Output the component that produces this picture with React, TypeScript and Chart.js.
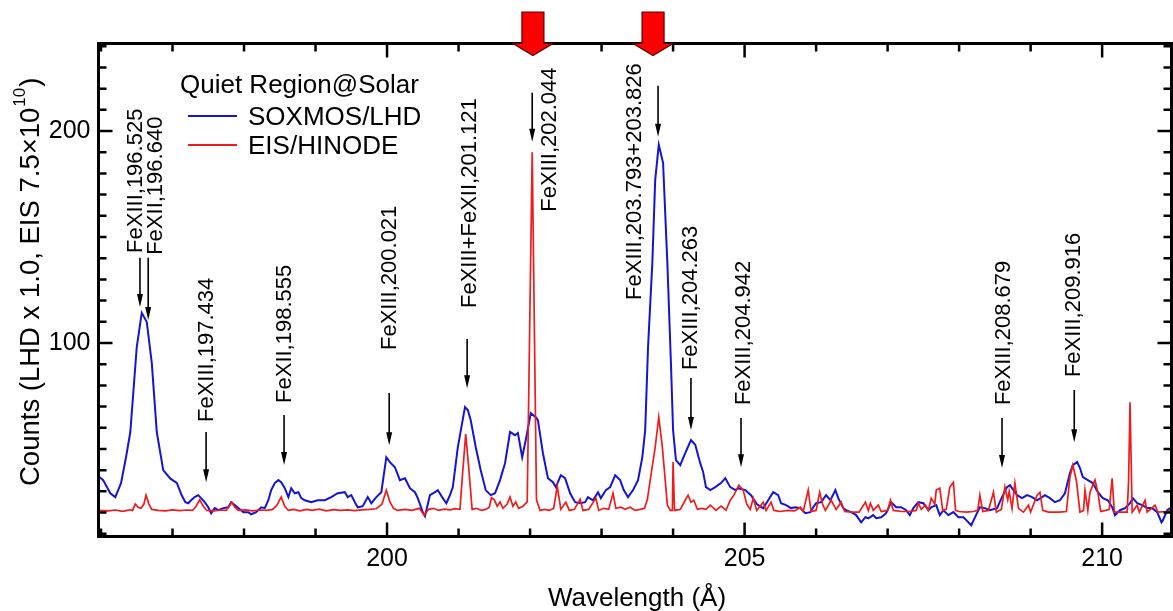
import React, { useEffect, useRef } from 'react';
import { Chart, registerables } from 'chart.js';

Chart.register(...registerables);

// ---- Data ----
const blueWavelength = [
  195.96, 196.03, 196.13, 196.2, 196.28, 196.35, 196.41, 196.5, 196.57, 196.64, 196.71, 196.78, 196.87, 196.97,
  197.06, 197.13, 197.18, 197.22, 197.26, 197.31, 197.36, 197.4, 197.45, 197.5, 197.54, 197.59, 197.64, 197.71,
  197.78, 197.82, 197.87, 197.92, 197.99, 198.06, 198.1, 198.17, 198.24, 198.29, 198.34, 198.38, 198.43, 198.48,
  198.52, 198.57, 198.62, 198.66, 198.71, 198.76, 198.8, 198.85, 198.94, 199.03, 199.13, 199.22, 199.31, 199.41,
  199.45, 199.5, 199.55, 199.59, 199.66, 199.73, 199.78, 199.85, 199.92, 199.99, 200.04, 200.11, 200.18, 200.25,
  200.32, 200.39, 200.43, 200.5, 200.53, 200.6, 200.67, 200.71, 200.77, 200.83, 200.88, 200.92, 200.99, 201.09,
  201.13, 201.17, 201.24, 201.31, 201.38, 201.45, 201.51, 201.58, 201.65, 201.72, 201.79, 201.83, 201.89, 201.94,
  202.01, 202.08, 202.11, 202.18, 202.25, 202.32, 202.36, 202.43, 202.49, 202.56, 202.63, 202.7, 202.77, 202.81,
  202.88, 202.95, 202.99, 203.06, 203.12, 203.19, 203.26, 203.31, 203.37, 203.44, 203.51, 203.57, 203.61, 203.65,
  203.71, 203.75, 203.8, 203.86, 203.92, 203.97, 204.0, 204.04, 204.1, 204.17, 204.25, 204.31, 204.38, 204.42,
  204.46, 204.52, 204.59, 204.67, 204.73, 204.8, 204.87, 204.91, 205.01, 205.09, 205.17, 205.26, 205.33, 205.4,
  205.47, 205.51, 205.58, 205.65, 205.71, 205.78, 205.85, 205.92, 205.96, 206.0, 206.07, 206.14, 206.2, 206.27,
  206.31, 206.38, 206.42, 206.49, 206.56, 206.63, 206.69, 206.73, 206.8, 206.84, 206.91, 206.98, 207.05, 207.12,
  207.19, 207.26, 207.31, 207.36, 207.43, 207.5, 207.57, 207.61, 207.68, 207.73, 207.78, 207.85, 207.92, 207.99,
  208.06, 208.1, 208.17, 208.24, 208.29, 208.36, 208.43, 208.53, 208.6, 208.67, 208.71, 208.76, 208.81, 208.88,
  208.95, 209.02, 209.09, 209.16, 209.2, 209.27, 209.34, 209.41, 209.48, 209.55, 209.59, 209.65, 209.69, 209.73,
  209.8, 209.87, 209.94, 210.01, 210.08, 210.14, 210.18, 210.25, 210.32, 210.39, 210.43, 210.49, 210.56, 210.63,
  210.7, 210.77, 210.83, 210.85, 210.91, 210.95,
];
const blueCounts = [
  37.2, 35.3, 29.1, 27.3, 33.9, 46.1, 58, 98.1, 114.2, 109.9, 90.6, 58, 40, 36,
  34, 28, 24.9, 24.4, 25.8, 27.3, 28.2, 26.8, 24.9, 22.5, 19.7, 22.1, 21.1, 22.1,
  22.5, 24.9, 23.5, 22.1, 20.2, 20.2, 19.2, 20.2, 22.5, 22.1, 25.8, 30.6, 33.9, 35.3,
  34.3, 31.5, 27.3, 31.5, 29.1, 29.6, 26.8, 25.8, 24.9, 25.8, 25.8, 27.3, 29.1, 29.6,
  27.3, 28.2, 24.9, 22.5, 23.0, 27.3, 24.4, 27.3, 29.6, 46.1, 43.8, 41.4, 35.3, 36.2,
  31.5, 29.6, 26.8, 20.2, 18.3, 28.2, 29.6, 30.6, 27.3, 24.4, 28.2, 32.0, 50.9, 69.8,
  68.4, 63.6, 50.9, 40.0, 30.6, 28.2, 29.1, 35.3, 43.3, 58.0, 56.5, 57.5, 46.1, 54.2,
  66.9, 65.0, 63.6, 48.0, 36.2, 34.3, 32.0, 37.6, 36.2, 29.1, 24.9, 24.4, 24.9, 27.3,
  25.8, 29.6, 26.8, 30.6, 32.0, 37.6, 35.3, 30.6, 27.3, 30.6, 35.3, 46.1, 58.9, 98.1,
  137.8, 177, 193.5, 185, 137.8, 90.6, 58.9, 44.7, 42.4, 48.0, 54.2, 52, 43.3, 39.1,
  32.0, 30.6, 32.0, 33.9, 36.2, 32.0, 30.6, 31.5, 30.6, 28.2, 24, 22, 25.8, 29.6,
  28.2, 24.4, 23.5, 22.1, 22.5, 22.1, 19.7, 20.2, 22.5, 24.4, 24.9, 28.2, 25.8, 30.6,
  26.8, 22.1, 21.1, 20.2, 18.8, 15.4, 17.8, 17.3, 18.8, 17.3, 17.8, 19.7, 24.9, 22.5,
  22.5, 21.1, 18.8, 22.1, 24.9, 24.4, 21.1, 22.5, 23.5, 18.8, 21.1, 18.8, 20.2, 17.8,
  17.8, 16.4, 14.0, 19, 22.5, 22.1, 21.1, 22.1, 27.3, 32.0, 32.9, 30.6, 28.2, 26.8,
  28.2, 27.3, 25.8, 27.3, 28.2, 26.8, 24.9, 25.8, 29.1, 38.6, 42.4, 43.8, 41.0, 36.7,
  35.3, 33.9, 29.6, 26.8, 25.8, 22.5, 18.8, 21.1, 22.1, 24.4, 26.8, 24.4, 23.5, 22.1,
  22.1, 20.2, 15.4, 16.4, 21.1, 22.1,
];

const redWavelength = [
  195.96, 196.1, 196.2, 196.3, 196.4, 196.44, 196.48, 196.52, 196.56, 196.6, 196.63, 196.67, 196.71, 196.8,
  196.9, 197.0, 197.1, 197.2, 197.28, 197.33, 197.38, 197.43, 197.48, 197.58, 197.68, 197.75, 197.79, 197.83,
  197.87, 197.92, 198.02, 198.12, 198.22, 198.32, 198.4, 198.46, 198.52, 198.57, 198.62, 198.7, 198.78, 198.88,
  198.95, 199.05, 199.15, 199.25, 199.35, 199.45, 199.55, 199.65, 199.75, 199.85, 199.93, 199.99, 200.04, 200.09,
  200.15, 200.25, 200.35, 200.45, 200.52, 200.58, 200.65, 200.72, 200.8, 200.88, 200.95, 201.02, 201.06, 201.1,
  201.14, 201.19, 201.25, 201.32, 201.38, 201.43, 201.46, 201.5, 201.54, 201.58, 201.62, 201.68, 201.72, 201.76,
  201.8, 201.84, 201.9, 201.96, 202.03, 202.09, 202.14, 202.2, 202.27, 202.33, 202.38, 202.43, 202.5, 202.55,
  202.62, 202.7, 202.74, 202.82, 202.92, 202.96, 203.03, 203.1, 203.16, 203.2, 203.27, 203.33, 203.4, 203.47,
  203.54, 203.6, 203.64, 203.68, 203.75, 203.8, 203.85, 203.89, 203.92, 203.96, 203.99, 204.0, 204.02, 204.1,
  204.17, 204.21, 204.25, 204.29, 204.34, 204.4, 204.46, 204.52, 204.6, 204.67, 204.74, 204.8, 204.85, 204.92,
  204.98, 205.03, 205.08, 205.12, 205.17, 205.26, 205.3, 205.37, 205.41, 205.5, 205.6, 205.7, 205.78, 205.82,
  205.89, 205.93, 206.0, 206.05, 206.09, 206.13, 206.21, 206.28, 206.35, 206.4, 206.5, 206.6, 206.69, 206.73,
  206.76, 206.8, 206.87, 206.91, 207.0, 207.04, 207.08, 207.2, 207.3, 207.4, 207.43, 207.47, 207.53, 207.57,
  207.61, 207.66, 207.68, 207.73, 207.77, 207.82, 207.87, 207.92, 207.95, 208.0, 208.1, 208.2, 208.26, 208.29,
  208.33, 208.41, 208.48, 208.52, 208.59, 208.64, 208.68, 208.7, 208.74, 208.78, 208.83, 208.9, 208.97, 209.0,
  209.09, 209.13, 209.17, 209.25, 209.4, 209.5, 209.55, 209.59, 209.64, 209.69, 209.74, 209.76, 209.8, 209.83,
  209.9, 209.94, 209.98, 210.05, 210.1, 210.14, 210.17, 210.25, 210.35, 210.37, 210.39, 210.42, 210.49, 210.52,
  210.6, 210.63, 210.74, 210.78, 210.9, 210.97,
];
const redCounts = [
  21, 20.8, 21.2, 20.6, 21.3, 21, 24, 22.5, 22, 24, 28.2, 24, 21.5, 21,
  20.8, 21.3, 20.9, 21.2, 21, 23, 26, 23, 21, 20.8, 21.2, 21, 23, 24.8,
  22.5, 21, 21.3, 20.8, 21.2, 21, 21.5, 23.5, 27.3, 23, 21, 21.5, 20.8, 21.5,
  21, 21.6, 20.8, 21.4, 21, 21.3, 20.9, 21.3, 21.5, 21.8, 24, 30.6, 25, 22,
  21, 21.5, 21, 22, 18.8, 21.5, 22, 21, 21.6, 21.3, 21.8, 21.5, 40, 57,
  42, 21.5, 22, 21, 21.5, 22.5, 27, 26, 23, 25, 22, 24, 27.3, 23,
  25, 22, 23, 25, 190, 26, 21, 21.5, 21, 22, 32.5, 21.5, 24.9, 21,
  21.5, 26.3, 21, 21.5, 26.8, 21, 22, 21.5, 29.1, 22, 22.5, 21.5, 22.5, 21,
  21.5, 22, 26, 35.3, 50.9, 65.0, 50.9, 35.3, 23.5, 21, 21, 43.8, 21, 21.5,
  25.8, 28.2, 24.9, 25.8, 21.5, 22, 21.5, 23.5, 21, 23, 21.1, 25.8, 28.2, 32.9,
  30.6, 24, 21.5, 26.8, 21, 24.9, 21, 24.9, 21, 20.5, 21, 20.8, 22.5, 20.5,
  30.6, 20.5, 21, 29.6, 24, 21, 25.8, 21.5, 24.9, 20.5, 20.2, 20.2, 24.9, 21,
  24.4, 21, 23.5, 20.5, 21, 25.8, 21, 20.5, 20.5, 21, 24.4, 21.5, 23.5, 21,
  26.8, 24, 30.6, 31.5, 21, 21.5, 32, 34.3, 21, 20.5, 20.2, 20.5, 21, 28.2,
  20.5, 21, 29.6, 20.2, 21.5, 32, 26, 30, 22, 33.9, 22, 20.2, 23.5, 20.2,
  28.2, 29.6, 21, 20.2, 20.2, 20.5, 36.7, 42.4, 35, 20.2, 21, 30.6, 21, 29.6,
  35.3, 29.6, 20.5, 21, 21.5, 36.2, 20.2, 20.2, 20.2, 35, 72, 20.2, 23.5, 20.2,
  25.8, 20.2, 23.5, 20.2, 20.5, 21,
];

const seriesNames = ['SOXMOS/LHD', 'EIS/HINODE'];
const legendTitle = 'Quiet Region@Solar';
const xTickLabels = [200, 205, 210];
const yTickLabels = [100, 200];
const xTitle = 'Wavelength (Å)';
const yTitleMain = 'Counts (LHD x 1.0, EIS 7.5×10';
const yTitleSup = '10';
const yTitleEnd = ')';

// line identifications: label, text centre (Å), text foot (counts), arrow (Å), arrow start, arrow tip (counts)
const lineLabels = [
  'FeXIII,196.525', 'FeXII,196.640', 'FeXIII,197.434', 'FeXII,198.555', 'FeXIII,200.021',
  'FeXIII+FeXII,201.121', 'FeXIII,202.044', 'FeXIII,203.793+203.826', 'FeXIII,204.263',
  'FeXIII,204.942', 'FeXIII,208.679', 'FeXIII,209.916',
];
const lineLabelX = [196.49, 196.77, 197.48, 198.57, 200.04, 201.16, 202.28, 203.47, 204.25, 204.99, 208.62, 209.61];
const lineLabelFoot = [142.5, 141.6, 62.7, 71.7, 96.7, 116.5, 161.9, 120.3, 87.2, 70.7, 70.7, 83.9];
const arrowX = [196.545, 196.66, 197.47, 198.56, 200.03, 201.12, 202.03, 203.79, 204.25, 204.95, 208.6, 209.61];
const arrowStart = [140.2, 140.2, 58.0, 66.0, 76.4, 101.9, 218.1, 221.4, 83.5, 64.6, 64.6, 77.8];
const arrowTip = [117.0, 110.9, 34.3, 42.4, 51.8, 78.7, 194.9, 197.3, 58.9, 41.4, 41.0, 53.2];
const highlightX = [202.04, 203.72];

const BLUE = '#1414d2';
const RED = '#ee1c1c';
const FONT = '"Liberation Sans", Arial, Helvetica, sans-serif';

const overlay = {
  id: 'overlay',
  afterDatasetsDraw(chart: any) {
    const { ctx, chartArea: a, scales } = chart;
    const x = scales.x;
    const y = scales.y;
    ctx.save();
    ctx.fillStyle = '#000';
    ctx.strokeStyle = '#000';

    // frame
    ctx.lineWidth = 3;
    ctx.strokeRect(a.left, a.top, a.right - a.left, a.bottom - a.top);

    // ticks (inward, mirrored)
    ctx.lineWidth = 2.5;
    ctx.beginPath();
    for (const t of x.ticks) {
      const px = x.getPixelForValue(t.value);
      const len = xTickLabels.includes(t.value) ? 14 : 8;
      ctx.moveTo(px, a.bottom); ctx.lineTo(px, a.bottom - len);
      ctx.moveTo(px, a.top); ctx.lineTo(px, a.top + len);
    }
    for (const t of y.ticks) {
      const py = y.getPixelForValue(t.value);
      const len = yTickLabels.includes(t.value) ? 14 : 8;
      ctx.moveTo(a.left, py); ctx.lineTo(a.left + len, py);
      ctx.moveTo(a.right, py); ctx.lineTo(a.right - len, py);
    }
    ctx.stroke();

    // tick labels
    ctx.font = `25px ${FONT}`;
    ctx.textBaseline = 'middle';
    ctx.textAlign = 'center';
    for (const v of xTickLabels) ctx.fillText(String(v), x.getPixelForValue(v), a.bottom + 23);
    ctx.textAlign = 'right';
    for (const v of yTickLabels) ctx.fillText(String(v), a.left - 8, y.getPixelForValue(v));

    // axis titles
    ctx.font = `26px ${FONT}`;
    ctx.textAlign = 'center';
    ctx.fillText(xTitle, (a.left + a.right) / 2 + 2, a.bottom + 62);

    ctx.save();
    const mainFont = `27.5px ${FONT}`;
    const supFont = `17px ${FONT}`;
    ctx.font = mainFont;
    const wMain = ctx.measureText(yTitleMain).width;
    ctx.font = supFont;
    const wSup = ctx.measureText(yTitleSup).width;
    ctx.translate(31, 486);
    ctx.rotate(-Math.PI / 2);
    ctx.textAlign = 'left';
    ctx.font = mainFont;
    ctx.fillText(yTitleMain, 0, 0);
    ctx.font = supFont;
    ctx.fillText(yTitleSup, wMain + 1, -11);
    ctx.font = mainFont;
    ctx.fillText(yTitleEnd, wMain + wSup + 2, 0);
    ctx.restore();

    // legend
    ctx.textAlign = 'left';
    ctx.font = `26px ${FONT}`;
    ctx.fillText(legendTitle, 180, 86);
    ctx.fillText(seriesNames[0], 248, 118);
    ctx.fillText(seriesNames[1], 248, 147);
    ctx.lineWidth = 2;
    ctx.strokeStyle = BLUE;
    ctx.beginPath(); ctx.moveTo(188, 116); ctx.lineTo(237, 116); ctx.stroke();
    ctx.strokeStyle = RED;
    ctx.beginPath(); ctx.moveTo(188, 145); ctx.lineTo(237, 145); ctx.stroke();

    // line identification labels and arrows
    ctx.strokeStyle = '#000';
    ctx.fillStyle = '#000';
    ctx.font = `22px ${FONT}`;
    lineLabels.forEach((label, i) => {
      ctx.save();
      ctx.translate(x.getPixelForValue(lineLabelX[i]), y.getPixelForValue(lineLabelFoot[i]));
      ctx.rotate(-Math.PI / 2);
      ctx.textAlign = 'left';
      ctx.textBaseline = 'middle';
      ctx.fillText(label, 0, 0);
      ctx.restore();
      const ax = x.getPixelForValue(arrowX[i]);
      const y0 = y.getPixelForValue(arrowStart[i]);
      const y1 = y.getPixelForValue(arrowTip[i]);
      ctx.lineWidth = 1.6;
      ctx.beginPath(); ctx.moveTo(ax, y0); ctx.lineTo(ax, y1 - 10); ctx.stroke();
      ctx.beginPath();
      ctx.moveTo(ax - 3, y1 - 13); ctx.lineTo(ax + 3, y1 - 13); ctx.lineTo(ax, y1); ctx.closePath();
      ctx.fill();
    });

    // red block arrows on top
    for (const v of highlightX) {
      const cx = x.getPixelForValue(v);
      ctx.beginPath();
      ctx.moveTo(cx - 11, 12); ctx.lineTo(cx + 11, 12); ctx.lineTo(cx + 11, a.top);
      ctx.lineTo(cx + 20, a.top); ctx.lineTo(cx, a.top + 12); ctx.lineTo(cx - 20, a.top);
      ctx.lineTo(cx - 11, a.top); ctx.closePath();
      ctx.fillStyle = '#ff0000';
      ctx.fill();
      ctx.lineWidth = 1.2;
      ctx.strokeStyle = '#5a0000';
      ctx.stroke();
    }
    ctx.restore();
  },
};

export default function App() {
  const ref = useRef<HTMLCanvasElement>(null);
  useEffect(() => {
    const canvas = ref.current;
    if (!canvas) return;
    const chart = new Chart(canvas, {
      type: 'line',
      data: {
        datasets: [
          {
            label: seriesNames[1],
            data: redWavelength.map((w, i) => ({ x: w, y: redCounts[i] })),
            borderColor: RED,
            borderWidth: 1.7,
            pointRadius: 0,
            tension: 0,
            order: 0,
          },
          {
            label: seriesNames[0],
            data: blueWavelength.map((w, i) => ({ x: w, y: blueCounts[i] })),
            borderColor: BLUE,
            borderWidth: 2,
            pointRadius: 0,
            tension: 0,
            order: 1,
          },
        ],
      },
      options: {
        responsive: false,
        animation: false,
        devicePixelRatio: 1,
        events: [],
        layout: { padding: { top: 43.5, right: 1.5, left: 0, bottom: 0 } },
        plugins: { legend: { display: false }, tooltip: { enabled: false }, title: { display: false } },
        scales: {
          x: {
            type: 'linear',
            min: 195.965,
            max: 210.97,
            grid: { display: false, drawTicks: false },
            border: { display: false },
            ticks: { display: false, stepSize: 1, includeBounds: false },
            afterFit: (s: any) => { s.height = 74.5; },
          },
          y: {
            type: 'linear',
            min: 8.7,
            max: 241.3,
            grid: { display: false, drawTicks: false },
            border: { display: false },
            ticks: { display: false, stepSize: 10, includeBounds: false },
            afterFit: (s: any) => { s.width = 98.5; },
          },
        },
      },
      plugins: [overlay],
    });
    return () => chart.destroy();
  }, []);

  return (
    <div style={{ position: 'absolute', left: 0, top: 0, width: 1173, height: 611, background: '#fff' }}>
      <canvas ref={ref} width={1173} height={611} style={{ display: 'block' }} />
    </div>
  );
}
